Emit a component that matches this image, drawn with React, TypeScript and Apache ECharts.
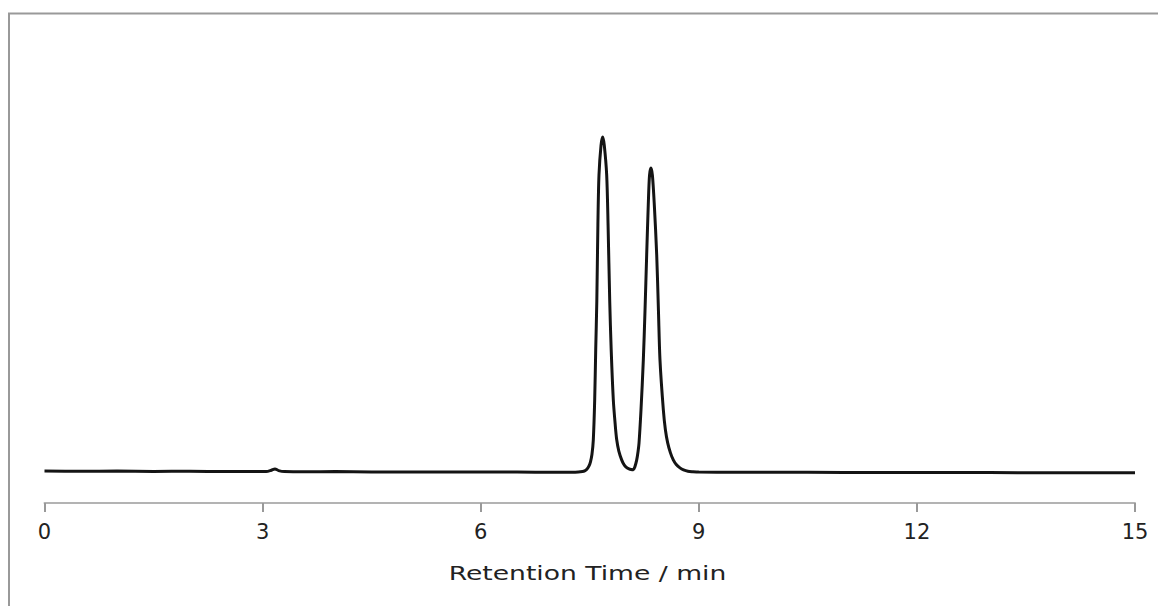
import React, { useEffect, useRef } from "react";
import * as echarts from "echarts";

// Retention time (min) and detector signal (arbitrary units, peak 1 ≈ 100)
const times = [
  0, 0.5, 1.0, 1.5, 2.0, 2.5, 2.8, 3.05, 3.12, 3.17, 3.22, 3.3, 3.6, 4.0, 4.5, 5.0, 5.5, 6.0, 6.5, 7.0, 7.3,
  7.4, 7.43, 7.46, 7.49, 7.51, 7.53, 7.549, 7.568, 7.582, 7.597, 7.612, 7.627, 7.655, 7.678, 7.7, 7.733, 7.752,
  7.775, 7.795, 7.824, 7.85, 7.871, 7.9, 7.939, 7.97, 8.0, 8.04, 8.07, 8.099, 8.12, 8.146, 8.165, 8.178, 8.205,
  8.237, 8.26, 8.283, 8.305, 8.322, 8.342, 8.362, 8.388, 8.421, 8.445, 8.466, 8.512, 8.54, 8.572, 8.61, 8.649,
  8.69, 8.741, 8.79, 8.85, 8.92, 9.0, 9.5, 10, 11, 12, 13, 14, 15,
];
const signal = [
  0.05, 0.0, 0.05, -0.05, 0.0, -0.1, -0.05, -0.1, 0.3, 0.7, 0.2, -0.1, -0.15, -0.1, -0.2, -0.2, -0.25, -0.25, -0.25, -0.3, -0.3,
  -0.1, 0.1, 0.6, 1.6, 2.8, 5.0, 9.4, 21.4, 36.3, 50.7, 73.7, 88.6, 97.5, 100, 97.5, 88.6, 73.7,
  50.7, 36.3, 21.4, 14.0, 9.4, 6.0, 3.4, 2.0, 1.2, 0.7, 0.5, 0.45, 1.3, 3.4, 6.0, 8.5, 18.4,
  33.3, 48.0, 64.7, 79.7, 88.5, 90.7, 88.5, 79.7, 64.7, 48.0, 33.3, 18.4, 12.5, 8.5, 5.5, 3.4,
  2.0, 1.0, 0.4, 0.0, -0.15, -0.25, -0.3, -0.3, -0.35, -0.35, -0.4, -0.45, -0.45,
];
const xTicks = [0, 3, 6, 9, 12, 15];
const xTitle = "Retention Time / min";

export default function App() {
  const ref = useRef<HTMLDivElement>(null);
  useEffect(() => {
    if (!ref.current) return;
    const chart = echarts.init(ref.current, null, { renderer: "svg" });
    const data = times.map((t, i) => [t, signal[i]]);
    chart.setOption({
      animation: false,
      backgroundColor: "#ffffff",
      grid: { left: 36.5, right: 31, top: 27, bottom: 103 },
      xAxis: {
        type: "value",
        min: xTicks[0],
        max: xTicks[xTicks.length - 1],
        interval: 3,
        axisLine: { show: true, onZero: false, lineStyle: { color: "#b3b3b3", width: 2 } },
        axisTick: { show: true, inside: false, length: 9, lineStyle: { color: "#999999", width: 2 } },
        axisLabel: {
          show: true,
          margin: 18,
          color: "#222222",
          fontSize: 21,
          fontFamily: "DejaVu Sans",
        },
        splitLine: { show: false },
      },
      yAxis: {
        type: "value",
        min: -9.5,
        max: 130.5,
        show: false,
      },
      graphic: [
        {
          type: "line",
          shape: { x1: 0, y1: 5.5, x2: 1158, y2: 5.5 },
          style: { stroke: "#999999", lineWidth: 2 },
        },
        {
          type: "line",
          shape: { x1: 1, y1: 5.5, x2: 1, y2: 598 },
          style: { stroke: "#999999", lineWidth: 2 },
        },
        {
          type: "text",
          x: 579.5,
          y: 565,
          scaleX: 1.33,
          style: {
            text: xTitle,
            fill: "#222222",
            fontSize: 20,
            fontFamily: "DejaVu Sans",
            textAlign: "center",
            textVerticalAlign: "middle",
          },
        },
      ],
      series: [
        {
          type: "line",
          data,
          showSymbol: false,
          smooth: 0.3,
          lineStyle: { color: "#141414", width: 3 },
        },
      ],
    });
    return () => chart.dispose();
  }, []);
  return <div ref={ref} style={{ width: 1158, height: 598 }} />;
}
